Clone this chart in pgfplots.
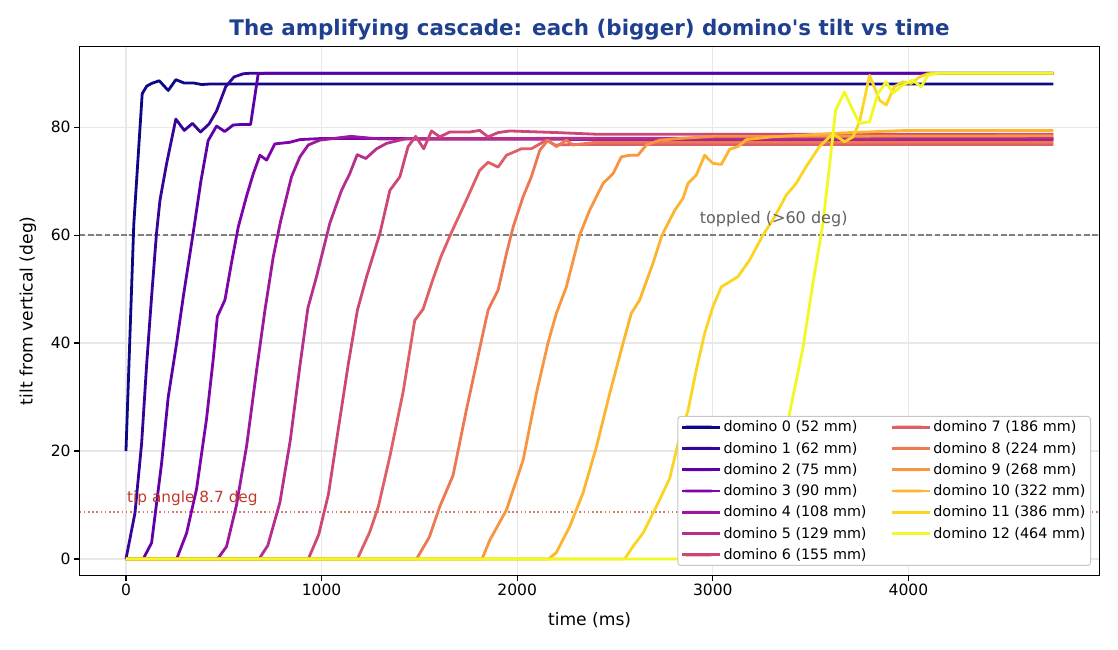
\documentclass[border=0pt]{standalone}
\usepackage{fontspec}
\setmainfont{DejaVu Sans}[Ligatures=TeXOff]
\usepackage{pgfplots}
\pgfplotsset{compat=1.18}
\definecolor{c0}{HTML}{0D0887}
\definecolor{c1}{HTML}{350498}
\definecolor{c2}{HTML}{5C01A6}
\definecolor{c3}{HTML}{7E03A8}
\definecolor{c4}{HTML}{9C179E}
\definecolor{c5}{HTML}{B52F8C}
\definecolor{c6}{HTML}{CC4778}
\definecolor{c7}{HTML}{DE5F65}
\definecolor{c8}{HTML}{ED7953}
\definecolor{c9}{HTML}{F89540}
\definecolor{c10}{HTML}{FDB42F}
\definecolor{c11}{HTML}{FBD524}
\definecolor{c12}{HTML}{F0F921}
\definecolor{titleblue}{HTML}{1F3F8F}
\definecolor{tipred}{HTML}{C0392B}
\definecolor{tipline}{HTML}{E07868}
\newcommand{\legfont}{\fontsize{14.4}{17}\selectfont}
\begin{document}
\begin{tikzpicture}
\path[use as bounding box] (0,0) rectangle (1118bp,650bp);
\begin{axis}[
  at={(79.6bp,74.8bp)}, anchor=south west,
  scale only axis, width=1020bp, height=529bp,
  xmin=-237, xmax=4977, ymin=-3, ymax=95,
  xtick={0,1000,2000,3000,4000}, ytick={0,20,40,60,80},
  xtick pos=bottom, ytick pos=left,
  tick align=outside, major tick length=5.5bp,
  tick style={black, line width=1.2bp},
  axis line style={line width=1.2bp},
  grid=major, major grid style={line width=1.2bp, black!9},
  ticklabel style={font=\fontsize{15.6}{18}\selectfont},
  /pgf/number format/assume math mode=true,
  /pgf/number format/set thousands separator={},
  xlabel={time (ms)}, ylabel={tilt from vertical (deg)},
  label style={font=\fontsize{17.2}{20}\selectfont},
  xlabel style={at={(axis description cs:0.5,-0.0847)}, anchor=center},
  ylabel style={at={(axis description cs:-0.0506,0.5)}, anchor=center},
  every axis plot/.append style={line width=2.8bp, line join=round},
  legend columns=2,
  legend cell align=left,
  legend image code/.code={\path (-1bp,0bp) -- (37bp,0bp); \fill[#1, draw=none] (0bp,-1.45bp) rectangle (31bp,1.45bp);},
  legend style={at={(axis description cs:0.9916,0.0174)}, anchor=south east,
    draw=black!22, line width=1bp, rounded corners=3bp, fill=white,
    font=\legfont, nodes={font=\legfont},
    inner xsep=3bp, inner ysep=2.5bp, row sep=4.9bp,
    /tikz/every even column/.append style={column sep=22bp}},
]
% reference lines
\addplot[forget plot, black!50, line width=1.4bp, dash pattern=on 5.8bp off 2.5bp] coordinates {(-237,60) (4977,60)};
\addplot[forget plot, tipline, line width=1.4bp, dash pattern=on 1.5bp off 2.7bp] coordinates {(-237,8.7) (4977,8.7)};

\addplot[forget plot, c0] coordinates {(0,20) (40,62) (83,86.2) (106,87.6) (131,88.1) (170,88.6) (216,86.8) (255,88.8) (296,88.2) (344,88.2) (387,87.9) (430,88.0) (4740,88.0)};
\addplot[forget plot, c1] coordinates {(0,0) (46,8.5) (80,21.4) (106,36.2) (131,48.6) (156,60.3) (174,66.5) (208,73.3) (255,81.5) (298,79.4) (340,80.7) (381,79.1) (425,80.6) (463,83.0) (510,87.5) (552,89.3) (600,89.9) (640,90) (4740,90)};
\addplot[forget plot, c2] coordinates {(0,0) (88,0) (131,3) (182,17.7) (216,30) (259,40) (293,48.6) (344,60.5) (383,70) (420,77.5) (463,80.2) (505,79.2) (548,80.4) (590,80.5) (637,80.5) (676,89.9) (720,90) (4740,90)};
\addplot[forget plot, c3] coordinates {(0,0) (259,0) (310,4.8) (361,13) (412,26) (446,37) (467,44.9) (506,48) (540,55) (574,61.5) (617,67.3) (651,71.4) (685,74.8) (719,73.9) (761,76.9) (838,77.2) (889,77.7) (1000,77.9) (4740,77.9)};
\addplot[forget plot, c4] coordinates {(0,0) (468,0) (514,2.3) (565,10) (617,21) (668,35) (710,46) (753,56) (790,62.5) (846,70.8) (889,74.5) (932,76.7) (991,77.6) (1150,78.3) (1300,77.8) (4740,77.6)};
\addplot[forget plot, c5] coordinates {(0,0) (680,0) (725,2.5) (787,10.5) (840,22) (890,36) (930,46.5) (974,52.3) (1042,62.2) (1102,68.3) (1144,71.4) (1182,74.9) (1226,74.2) (1281,76) (1332,77) (1434,77.9) (4740,78.0)};
\addplot[forget plot, c6] coordinates {(0,0) (932,0) (985,4.5) (1035,12) (1085,24) (1136,36) (1183,46.1) (1230,52.3) (1298,60.3) (1349,68.3) (1400,70.8) (1442,76.4) (1481,78.3) (1522,76.0) (1562,79.3) (1604,78.2) (1655,79.1) (1757,79.1) (1808,79.4) (1851,78.2) (1902,79.0) (1962,79.3) (2200,79.0) (2400,78.7) (4740,78.7)};
\addplot[forget plot, c7] coordinates {(0,0) (1183,0) (1246,5) (1290,9.7) (1349,19) (1417,31) (1476,44.2) (1519,46.3) (1566,51.5) (1610,56) (1660,60.2) (1740,66.5) (1808,72) (1851,73.5) (1902,72.6) (1945,74.8) (2021,76) (2072,76) (2149,77.6) (2192,76.7) (2300,76.8) (4740,76.8)};
\addplot[forget plot, c8] coordinates {(0,0) (1485,0) (1550,4) (1604,9.7) (1672,15.5) (1740,27.6) (1808,39) (1851,46.1) (1902,49.8) (1945,56.6) (1979,61.5) (2030,67.1) (2072,70.8) (2115,75.7) (2157,77.6) (2200,76.4) (2251,77.6) (2285,76.7) (2400,77.2) (4740,77.2)};
\addplot[forget plot, c9] coordinates {(0,0) (1820,0) (1860,3.5) (1945,9.1) (2030,18.3) (2098,30.7) (2157,40) (2200,45.5) (2251,50.4) (2319,60) (2370,64.6) (2439,69.6) (2490,71.4) (2532,74.5) (2575,74.8) (2617,74.8) (2660,76.7) (2728,77.6) (2830,77.9) (3000,78.3) (4740,78.4)};
\addplot[forget plot, c10] coordinates {(0,0) (2160,0) (2200,1.2) (2268,6) (2336,12.2) (2405,20.8) (2473,30.7) (2541,40) (2583,45.5) (2626,48) (2694,54.8) (2740,60) (2805,64.6) (2847,66.8) (2873,69.6) (2915,71.1) (2958,74.8) (3000,73.3) (3043,73.1) (3086,75.9) (3128,76.4) (3171,77.7) (3300,78.2) (3500,78.6) (3700,79.0) (4000,79.4) (4740,79.4)};
\addplot[forget plot, c11] coordinates {(0,0) (2549,0) (2591,2.3) (2643,4.8) (2711,9.7) (2779,14.9) (2830,22.6) (2873,27.5) (2915,35) (2958,41.8) (3000,46.7) (3043,50.4) (3128,52.3) (3188,55.4) (3256,60) (3316,63.4) (3375,67.4) (3426,69.6) (3477,72.7) (3545,76.4) (3613,78.8) (3673,77.3) (3716,78.2) (3750,81) (3801,89.6) (3852,85) (3886,84.1) (3928,87.5) (3971,88.4) (4014,88.1) (4056,89.3) (4099,89.9) (4150,90) (4740,90)};
\addplot[forget plot, c12] coordinates {(0,0) (3200,0) (3260,3) (3300,8) (3350,16) (3392,27) (3460,39) (3511,51) (3562,62) (3600,74) (3627,83.1) (3673,86.5) (3716,83.1) (3750,80.7) (3801,81) (3843,86.2) (3886,88.4) (3920,86.3) (3971,87.8) (4020,88.7) (4065,87.5) (4099,89.6) (4150,90) (4740,90)};

\node[anchor=west, inner sep=0pt, text=black!62, font=\fontsize{16.1}{19}\selectfont] at (axis cs:2932,63) {toppled (>60 deg)};
\node[anchor=west, inner sep=0pt, text=tipred, font=\fontsize{15.4}{18}\selectfont] at (axis cs:5,11.3) {tip angle 8.7 deg};

\addlegendimage{c0}\addlegendentry{domino 0 (52 mm)}
\addlegendimage{c7}\addlegendentry{domino 7 (186 mm)}
\addlegendimage{c1}\addlegendentry{domino 1 (62 mm)}
\addlegendimage{c8}\addlegendentry{domino 8 (224 mm)}
\addlegendimage{c2}\addlegendentry{domino 2 (75 mm)}
\addlegendimage{c9}\addlegendentry{domino 9 (268 mm)}
\addlegendimage{c3}\addlegendentry{domino 3 (90 mm)}
\addlegendimage{c10}\addlegendentry{domino 10 (322 mm)}
\addlegendimage{c4}\addlegendentry{domino 4 (108 mm)}
\addlegendimage{c11}\addlegendentry{domino 11 (386 mm)}
\addlegendimage{c5}\addlegendentry{domino 5 (129 mm)}
\addlegendimage{c12}\addlegendentry{domino 12 (464 mm)}
\addlegendimage{c6}\addlegendentry{domino 6 (155 mm)}
\end{axis}
\node[font=\fontsize{21.5}{25}\selectfont\bfseries, text=titleblue] at (589.6bp,620.5bp) {The amplifying cascade: each (bigger) domino's tilt vs time};
\end{tikzpicture}
\end{document}
